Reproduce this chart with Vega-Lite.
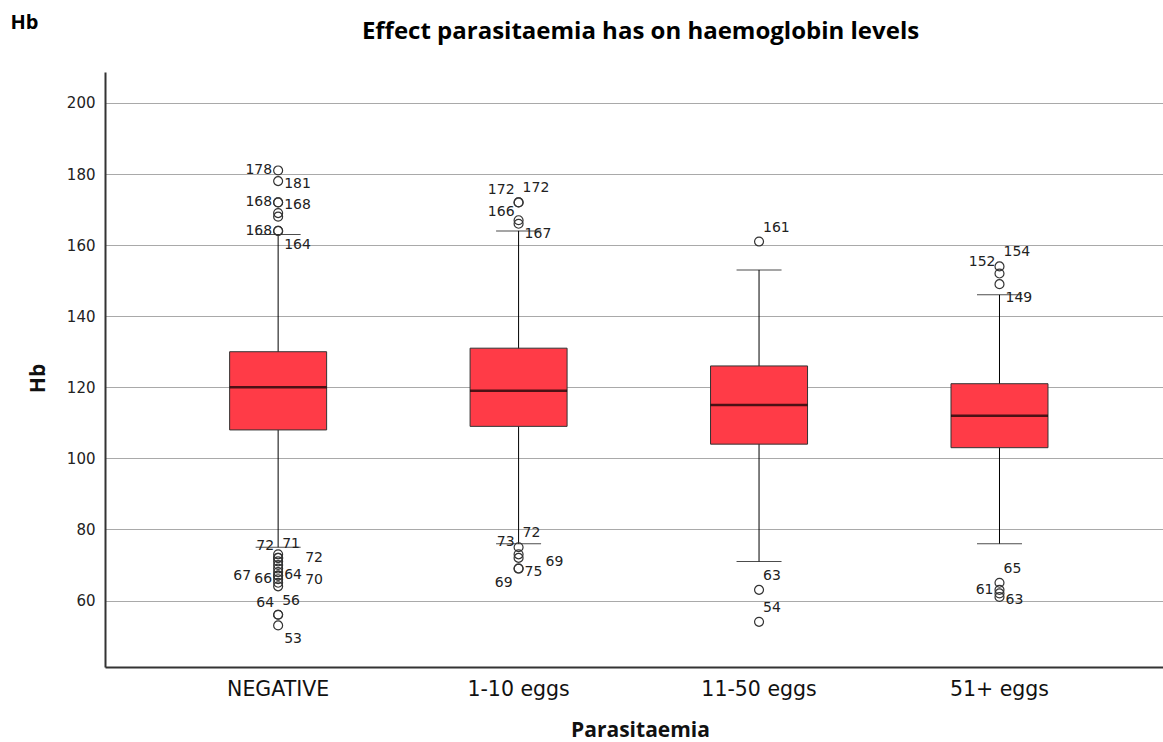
{
  "$schema": "https://vega.github.io/schema/vega-lite/v6.json",
  "width": 1058,
  "height": 595,
  "autosize": {"type": "none"},
  "padding": {"left": 105, "top": 72, "right": 0, "bottom": 75},
  "background": "white",
  "config": {"view": {"stroke": null}, "font": "DejaVu Sans"},
  "datasets": {
    "summary": [
      {"group": "NEGATIVE", "lo": 75, "q1": 108, "med": 120, "q3": 130, "hi": 163},
      {"group": "1-10 eggs", "lo": 76, "q1": 109, "med": 119, "q3": 131, "hi": 164},
      {"group": "11-50 eggs", "lo": 71, "q1": 104, "med": 115, "q3": 126, "hi": 153},
      {"group": "51+ eggs", "lo": 76, "q1": 103, "med": 112, "q3": 121, "hi": 146}
    ],
    "outliers": [
      {"group": "NEGATIVE", "hb": 181, "pos": "L", "label": "178"},
      {"group": "NEGATIVE", "hb": 178, "pos": "R", "label": "181"},
      {"group": "NEGATIVE", "hb": 172, "pos": "L", "label": "168"},
      {"group": "NEGATIVE", "hb": 172, "pos": "R", "label": "168"},
      {"group": "NEGATIVE", "hb": 169, "pos": "", "label": ""},
      {"group": "NEGATIVE", "hb": 168, "pos": "", "label": ""},
      {"group": "NEGATIVE", "hb": 164, "pos": "L", "label": "168"},
      {"group": "NEGATIVE", "hb": 164, "pos": "BR", "label": "164"},
      {"group": "NEGATIVE", "hb": 73, "pos": "FR", "label": "72"},
      {"group": "NEGATIVE", "hb": 72, "pos": "AL", "label": "72"},
      {"group": "NEGATIVE", "hb": 72, "pos": "AR", "label": "71"},
      {"group": "NEGATIVE", "hb": 71, "pos": "", "label": ""},
      {"group": "NEGATIVE", "hb": 70, "pos": "", "label": ""},
      {"group": "NEGATIVE", "hb": 69, "pos": "", "label": ""},
      {"group": "NEGATIVE", "hb": 68, "pos": "R", "label": "64"},
      {"group": "NEGATIVE", "hb": 67, "pos": "FR", "label": "70"},
      {"group": "NEGATIVE", "hb": 67, "pos": "FL", "label": "67"},
      {"group": "NEGATIVE", "hb": 66, "pos": "L", "label": "66"},
      {"group": "NEGATIVE", "hb": 65, "pos": "", "label": ""},
      {"group": "NEGATIVE", "hb": 64, "pos": "", "label": ""},
      {"group": "NEGATIVE", "hb": 56, "pos": "AL", "label": "64"},
      {"group": "NEGATIVE", "hb": 56, "pos": "AR", "label": "56"},
      {"group": "NEGATIVE", "hb": 53, "pos": "BR", "label": "53"},
      {"group": "1-10 eggs", "hb": 172, "pos": "AL", "label": "172"},
      {"group": "1-10 eggs", "hb": 172, "pos": "AR", "label": "172"},
      {"group": "1-10 eggs", "hb": 167, "pos": "BR", "label": "167"},
      {"group": "1-10 eggs", "hb": 166, "pos": "AL", "label": "166"},
      {"group": "1-10 eggs", "hb": 75, "pos": "AR", "label": "72"},
      {"group": "1-10 eggs", "hb": 73, "pos": "AL", "label": "73"},
      {"group": "1-10 eggs", "hb": 72, "pos": "FR", "label": "69"},
      {"group": "1-10 eggs", "hb": 69, "pos": "R", "label": "75"},
      {"group": "1-10 eggs", "hb": 69, "pos": "BL", "label": "69"},
      {"group": "11-50 eggs", "hb": 161, "pos": "AR", "label": "161"},
      {"group": "11-50 eggs", "hb": 63, "pos": "AR", "label": "63"},
      {"group": "11-50 eggs", "hb": 54, "pos": "AR", "label": "54"},
      {"group": "51+ eggs", "hb": 154, "pos": "AR", "label": "154"},
      {"group": "51+ eggs", "hb": 152, "pos": "AL", "label": "152"},
      {"group": "51+ eggs", "hb": 149, "pos": "BR", "label": "149"},
      {"group": "51+ eggs", "hb": 65, "pos": "AR", "label": "65"},
      {"group": "51+ eggs", "hb": 63, "pos": "L", "label": "61"},
      {"group": "51+ eggs", "hb": 62, "pos": "", "label": ""},
      {"group": "51+ eggs", "hb": 61, "pos": "R", "label": "63"}
    ]
  },
  "resolve": {"axis": {"x": "independent", "y": "independent"}},
  "layer": [
    {
      "data": {"name": "summary"},
      "mark": {"type": "rule", "color": "black", "strokeWidth": 1},
      "encoding": {
        "x": {
          "field": "group", "type": "nominal",
          "sort": ["NEGATIVE", "1-10 eggs", "11-50 eggs", "51+ eggs"],
          "scale": {"type": "band", "paddingInner": 0, "paddingOuter": 0.2, "align": 0.55},
          "axis": {
            "orient": "bottom", "title": "Parasitaemia", "labelAngle": 0,
            "labelFont": "DejaVu Sans", "labelFontSize": 20.5, "labelColor": "#111",
            "labelPadding": 12, "ticks": false, "grid": false,
            "domainColor": "#333", "domainWidth": 2,
            "titleFont": "Open Sans", "titleFontSize": 21, "titleFontWeight": "bold",
            "titleColor": "#111", "titleX": 535, "titleY": 63,
            "titleBaseline": "middle", "titleAlign": "center"
          }
        },
        "y": {
          "field": "lo", "type": "quantitative",
          "scale": {"domain": [41.3, 208.7], "nice": false, "zero": false},
          "axis": {
            "orient": "left", "title": "Hb",
            "values": [60, 80, 100, 120, 140, 160, 180, 200],
            "grid": true, "gridColor": "#A9A9A9", "gridWidth": 1,
            "ticks": false, "labelFont": "DejaVu Sans", "labelFontSize": 15,
            "labelColor": "#222", "labelPadding": 10,
            "domainColor": "#333", "domainWidth": 2,
            "titleFont": "Open Sans", "titleFontSize": 21, "titleFontWeight": "bold",
            "titleColor": "#111", "titleAngle": 270, "titleX": -67, "titleY": 306,
            "titleBaseline": "middle", "titleAlign": "center"
          }
        },
        "y2": {"field": "hi"}
      }
    },
    {
      "data": {"name": "summary"},
      "mark": {"type": "bar", "size": 97, "color": "#FF3B47", "stroke": "#333", "strokeWidth": 1},
      "encoding": {
        "x": {
          "field": "group", "type": "nominal",
          "sort": ["NEGATIVE", "1-10 eggs", "11-50 eggs", "51+ eggs"],
          "axis": {
            "orient": "top", "labels": false, "ticks": false, "domain": false, "grid": false,
            "title": "Effect parasitaemia has on haemoglobin levels",
            "titleFont": "Open Sans", "titleFontSize": 24, "titleFontWeight": "bold",
            "titleColor": "#000", "titleX": 535, "titleY": -41,
            "titleBaseline": "middle", "titleAlign": "center"
          }
        },
        "y": {
          "field": "q1", "type": "quantitative",
          "axis": {
            "orient": "left", "labels": false, "ticks": false, "domain": false, "grid": false,
            "title": "Hb", "titleFont": "Open Sans", "titleFontSize": 20, "titleFontWeight": "bold",
            "titleColor": "#000", "titleAngle": 0, "titleX": -95, "titleY": -50,
            "titleBaseline": "middle", "titleAlign": "left"
          }
        },
        "y2": {"field": "q3"}
      }
    },
    {
      "data": {"name": "summary"},
      "mark": {"type": "tick", "size": 97, "thickness": 2.5, "color": "#000"},
      "encoding": {
        "x": {"field": "group", "type": "nominal", "sort": ["NEGATIVE", "1-10 eggs", "11-50 eggs", "51+ eggs"], "axis": null},
        "y": {"field": "med", "type": "quantitative", "axis": null}
      }
    },
    {
      "data": {"name": "summary"},
      "mark": {"type": "tick", "size": 45, "thickness": 1, "color": "#000"},
      "encoding": {
        "x": {"field": "group", "type": "nominal", "sort": ["NEGATIVE", "1-10 eggs", "11-50 eggs", "51+ eggs"], "axis": null},
        "y": {"field": "lo", "type": "quantitative", "axis": null}
      }
    },
    {
      "data": {"name": "summary"},
      "mark": {"type": "tick", "size": 45, "thickness": 1, "color": "#000"},
      "encoding": {
        "x": {"field": "group", "type": "nominal", "sort": ["NEGATIVE", "1-10 eggs", "11-50 eggs", "51+ eggs"], "axis": null},
        "y": {"field": "hi", "type": "quantitative", "axis": null}
      }
    },
    {
      "data": {"name": "outliers"},
      "mark": {"type": "point", "shape": "circle", "filled": false, "size": 80, "stroke": "#333", "strokeWidth": 1.2, "opacity": 1},
      "encoding": {
        "x": {"field": "group", "type": "nominal", "sort": ["NEGATIVE", "1-10 eggs", "11-50 eggs", "51+ eggs"], "axis": null},
        "y": {"field": "hb", "type": "quantitative", "axis": null}
      }
    },
    {
      "data": {"name": "outliers"},
      "transform": [{"filter": "datum.pos == 'L'"}],
      "mark": {"type": "text", "align": "right", "baseline": "middle", "dx": -6, "dy": 0, "font": "DejaVu Sans", "fontSize": 14, "color": "#222"},
      "encoding": {
        "x": {"field": "group", "type": "nominal", "sort": ["NEGATIVE", "1-10 eggs", "11-50 eggs", "51+ eggs"], "axis": null},
        "y": {"field": "hb", "type": "quantitative", "axis": null},
        "text": {"field": "label"}
      }
    },
    {
      "data": {"name": "outliers"},
      "transform": [{"filter": "datum.pos == 'R'"}],
      "mark": {"type": "text", "align": "left", "baseline": "middle", "dx": 6, "dy": 3, "font": "DejaVu Sans", "fontSize": 14, "color": "#222"},
      "encoding": {
        "x": {"field": "group", "type": "nominal", "sort": ["NEGATIVE", "1-10 eggs", "11-50 eggs", "51+ eggs"], "axis": null},
        "y": {"field": "hb", "type": "quantitative", "axis": null},
        "text": {"field": "label"}
      }
    },
    {
      "data": {"name": "outliers"},
      "transform": [{"filter": "datum.pos == 'AL'"}],
      "mark": {"type": "text", "align": "right", "baseline": "middle", "dx": -4, "dy": -12, "font": "DejaVu Sans", "fontSize": 14, "color": "#222"},
      "encoding": {
        "x": {"field": "group", "type": "nominal", "sort": ["NEGATIVE", "1-10 eggs", "11-50 eggs", "51+ eggs"], "axis": null},
        "y": {"field": "hb", "type": "quantitative", "axis": null},
        "text": {"field": "label"}
      }
    },
    {
      "data": {"name": "outliers"},
      "transform": [{"filter": "datum.pos == 'AR'"}],
      "mark": {"type": "text", "align": "left", "baseline": "middle", "dx": 4, "dy": -14, "font": "DejaVu Sans", "fontSize": 14, "color": "#222"},
      "encoding": {
        "x": {"field": "group", "type": "nominal", "sort": ["NEGATIVE", "1-10 eggs", "11-50 eggs", "51+ eggs"], "axis": null},
        "y": {"field": "hb", "type": "quantitative", "axis": null},
        "text": {"field": "label"}
      }
    },
    {
      "data": {"name": "outliers"},
      "transform": [{"filter": "datum.pos == 'BL'"}],
      "mark": {"type": "text", "align": "right", "baseline": "middle", "dx": -6, "dy": 14, "font": "DejaVu Sans", "fontSize": 14, "color": "#222"},
      "encoding": {
        "x": {"field": "group", "type": "nominal", "sort": ["NEGATIVE", "1-10 eggs", "11-50 eggs", "51+ eggs"], "axis": null},
        "y": {"field": "hb", "type": "quantitative", "axis": null},
        "text": {"field": "label"}
      }
    },
    {
      "data": {"name": "outliers"},
      "transform": [{"filter": "datum.pos == 'BR'"}],
      "mark": {"type": "text", "align": "left", "baseline": "middle", "dx": 6, "dy": 14, "font": "DejaVu Sans", "fontSize": 14, "color": "#222"},
      "encoding": {
        "x": {"field": "group", "type": "nominal", "sort": ["NEGATIVE", "1-10 eggs", "11-50 eggs", "51+ eggs"], "axis": null},
        "y": {"field": "hb", "type": "quantitative", "axis": null},
        "text": {"field": "label"}
      }
    },
    {
      "data": {"name": "outliers"},
      "transform": [{"filter": "datum.pos == 'FL'"}],
      "mark": {"type": "text", "align": "right", "baseline": "middle", "dx": -27, "dy": 0, "font": "DejaVu Sans", "fontSize": 14, "color": "#222"},
      "encoding": {
        "x": {"field": "group", "type": "nominal", "sort": ["NEGATIVE", "1-10 eggs", "11-50 eggs", "51+ eggs"], "axis": null},
        "y": {"field": "hb", "type": "quantitative", "axis": null},
        "text": {"field": "label"}
      }
    },
    {
      "data": {"name": "outliers"},
      "transform": [{"filter": "datum.pos == 'FR'"}],
      "mark": {"type": "text", "align": "left", "baseline": "middle", "dx": 27, "dy": 4, "font": "DejaVu Sans", "fontSize": 14, "color": "#222"},
      "encoding": {
        "x": {"field": "group", "type": "nominal", "sort": ["NEGATIVE", "1-10 eggs", "11-50 eggs", "51+ eggs"], "axis": null},
        "y": {"field": "hb", "type": "quantitative", "axis": null},
        "text": {"field": "label"}
      }
    }
  ]
}
